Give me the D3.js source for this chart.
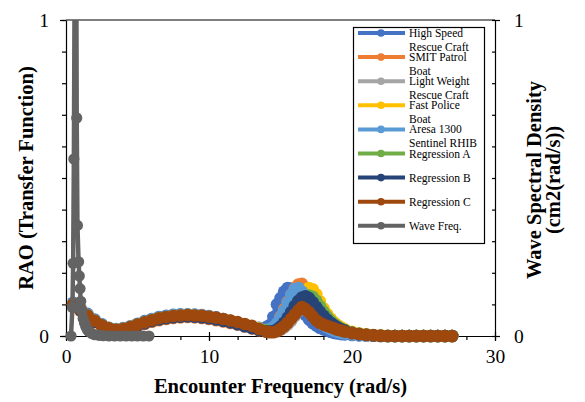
<!DOCTYPE html>
<html><head><meta charset="utf-8">
<script src="https://cdn.jsdelivr.net/npm/d3@7"></script>
<style>
html,body{margin:0;padding:0;background:#fff;}
svg{display:block;font-family:"Liberation Serif","Times New Roman",serif;}
</style></head>
<body><svg id="c" width="585" height="402"></svg>
<script>
// ---------- DATA ----------
const xEnc = [0.5,1,1.5,2,2.5,3,3.5,4,4.5,5,5.5,6,6.5,7,7.5,8,8.5,9,9.5,10,10.5,11,11.5,12,12.5,13,13.5,
  14,14.25,14.5,14.75,15,15.25,15.5,15.75,16,16.25,16.5,16.75,17,17.25,17.5,17.75,18,18.25,18.5,18.75,19,19.25,19.5,
  20,20.5,21,21.5,22,22.5,23,23.5,24,24.5,25,25.5,26,26.5,27];

const highSpeed = [0.105,0.09,0.07,0.052,0.037,0.026,0.022,0.025,0.031,0.039,0.047,0.054,0.06,0.064,0.067,0.069,0.069,0.068,0.066,0.063,0.059,0.054,0.048,0.042,0.036,0.03,0.026,
  0.028,0.035,0.06,0.1,0.12,0.14,0.152,0.15,0.135,0.11,0.085,0.066,0.052,0.041,0.033,0.026,0.021,0.017,0.013,0.01,0.008,0.006,0.005,
  0.003,0.002,0.001,0.001,0,0,0,0,0,0,0,0,0,0,0];
const smitPatrol = [0.095,0.08,0.06,0.044,0.031,0.021,0.017,0.019,0.024,0.031,0.038,0.045,0.05,0.054,0.057,0.059,0.06,0.059,0.057,0.054,0.05,0.046,0.041,0.036,0.03,0.024,0.018,
  0.014,0.016,0.022,0.035,0.06,0.085,0.108,0.13,0.15,0.163,0.165,0.15,0.125,0.1,0.078,0.06,0.046,0.035,0.027,0.021,0.016,0.012,0.01,
  0.006,0.004,0.002,0.001,0,0,0,0,0,0,0,0,0,0,0];
const lightWeight = [0.1,0.084,0.064,0.047,0.033,0.023,0.019,0.021,0.027,0.035,0.042,0.049,0.055,0.059,0.062,0.064,0.065,0.064,0.062,0.059,0.056,0.052,0.047,0.042,0.036,0.03,0.024,
  0.018,0.015,0.014,0.016,0.02,0.027,0.036,0.048,0.063,0.08,0.097,0.112,0.122,0.125,0.118,0.102,0.085,0.068,0.054,0.042,0.033,0.026,0.02,
  0.012,0.008,0.005,0.003,0.002,0.001,0,0,0,0,0,0,0,0,0];
const fastPolice = [0.1,0.086,0.066,0.049,0.035,0.025,0.021,0.023,0.029,0.037,0.044,0.051,0.057,0.061,0.064,0.066,0.067,0.066,0.064,0.061,0.057,0.053,0.048,0.042,0.036,0.03,0.024,
  0.018,0.016,0.017,0.021,0.028,0.038,0.052,0.07,0.09,0.11,0.13,0.145,0.152,0.148,0.132,0.11,0.088,0.07,0.055,0.043,0.034,0.027,0.021,
  0.013,0.008,0.005,0.003,0.002,0.001,0,0,0,0,0,0,0,0,0];
const aresa1300 = [0.102,0.087,0.067,0.05,0.036,0.025,0.021,0.023,0.029,0.037,0.045,0.052,0.058,0.062,0.065,0.067,0.067,0.066,0.064,0.061,0.057,0.052,0.047,0.041,0.035,0.029,0.023,
  0.02,0.022,0.028,0.04,0.058,0.08,0.105,0.13,0.148,0.152,0.14,0.118,0.095,0.075,0.058,0.045,0.035,0.028,0.022,0.017,0.013,0.01,0.008,
  0.005,0.003,0.002,0.001,0,0,0,0,0,0,0,0,0,0,0];
const regressionA = [0.1,0.085,0.065,0.048,0.034,0.024,0.02,0.022,0.028,0.036,0.043,0.05,0.056,0.06,0.063,0.065,0.066,0.065,0.063,0.06,0.056,0.052,0.047,0.041,0.035,0.029,0.023,
  0.018,0.016,0.016,0.019,0.025,0.034,0.046,0.061,0.078,0.096,0.112,0.124,0.128,0.124,0.112,0.095,0.078,0.062,0.049,0.038,0.03,0.023,0.018,
  0.011,0.007,0.004,0.002,0.001,0,0,0,0,0,0,0,0,0,0];
const regressionB = [0.098,0.082,0.062,0.045,0.032,0.022,0.018,0.02,0.026,0.033,0.04,0.047,0.052,0.056,0.059,0.061,0.062,0.061,0.059,0.056,0.052,0.048,0.043,0.037,0.031,0.025,0.019,
  0.015,0.014,0.016,0.021,0.03,0.042,0.058,0.076,0.095,0.111,0.122,0.126,0.12,0.107,0.092,0.077,0.064,0.052,0.042,0.034,0.027,0.021,0.017,
  0.01,0.006,0.004,0.002,0.001,0,0,0,0,0,0,0,0,0,0];
const regressionC = [0.1,0.085,0.065,0.048,0.034,0.024,0.02,0.022,0.028,0.036,0.043,0.05,0.056,0.06,0.063,0.065,0.066,0.065,0.064,0.061,0.058,0.054,0.049,0.044,0.038,0.032,0.022,
  0.014,0.012,0.012,0.015,0.022,0.031,0.042,0.055,0.068,0.081,0.092,0.085,0.075,0.062,0.05,0.042,0.036,0.032,0.028,0.024,0.02,0.017,0.014,
  0.009,0.006,0.004,0.002,0.001,0,0,0,0,0,0,0,0,0,0];

const waveX = [0.35,0.45,0.5,0.55,0.62,0.68,0.75,0.8,0.88,0.93,0.98,1.03,1.1,1.2,1.3,1.4,1.5,1.6,1.8,2.0,2.3,2.6,3.0,3.4,3.8,4.2,4.6,5.0,5.4,5.8];
const waveY = [0,0.09,0.23,0.56,1.3,1.8,0.69,0.35,0.235,0.19,0.15,0.11,0.08,0.055,0.04,0.028,0.02,0.014,0.008,0.004,0.002,0.001,0,0,0,0,0,0,0,0];

const seriesNames = ["High Speed Rescue Craft","SMIT Patrol Boat","Light Weight Rescue Craft","Fast Police Boat","Aresa 1300 Sentinel RHIB","Regression A","Regression B","Regression C","Wave Freq."];
const legendLines = [["High Speed","Rescue Craft"],["SMIT Patrol","Boat"],["Light Weight","Rescue Craft"],["Fast Police","Boat"],["Aresa 1300","Sentinel RHIB"],["Regression A"],["Regression B"],["Regression C"],["Wave Freq."]];
const seriesColors = ["#4472C4","#ED7D31","#A5A5A5","#FFC000","#5B9BD5","#70AD47","#264478","#9E480E","#636363"];
const raoValues = [highSpeed, smitPatrol, lightWeight, fastPolice, aresa1300, regressionA, regressionB, regressionC];

const xTicks = [0,10,20,30];
const yTicks = [0,1];

// ---------- LAYOUT ----------
const svg = d3.select("#c");
const L = 66, R = 495, T = 20, B = 336;
const x = d3.scaleLinear().domain([0,30]).range([L,R]);
const y = d3.scaleLinear().domain([0,1]).range([B,T]);
const y2 = d3.scaleLinear().domain([0,1]).range([B,T]);
const FS = 19.5;

svg.append("defs").append("clipPath").attr("id","clip")
  .append("rect").attr("x",L-10).attr("y",T).attr("width",R-L+20).attr("height",B-T+12);

svg.append("line").attr("x1",L).attr("x2",R).attr("y1",T).attr("y2",T).attr("stroke","#000").attr("stroke-width",1.2);

// axes
const axStyle = sel => { sel.selectAll("path").attr("stroke","#000").attr("stroke-width",1.2); sel.selectAll("line").attr("stroke","#000").attr("stroke-width",1.2); sel.selectAll("text").attr("font-family","Liberation Serif").attr("font-size",FS).attr("fill","#000"); };

const xb = svg.append("g").attr("transform",`translate(0,${B})`)
  .call(d3.axisBottom(x).tickValues(d3.range(0,31,2)).tickSize(4).tickFormat("").tickSizeOuter(0));
axStyle(xb);
const xm = svg.append("g").attr("transform",`translate(0,${B})`)
  .call(d3.axisBottom(x).tickValues(xTicks).tickSize(5).tickPadding(8).tickFormat(d3.format("d")).tickSizeOuter(0));
axStyle(xm); xm.select(".domain").remove();
xm.selectAll(".tick line").attr("y1",-4);

const yl = svg.append("g").attr("transform",`translate(${L},0)`)
  .call(d3.axisLeft(y).tickValues(d3.range(0,1.01,0.1)).tickSize(4).tickFormat("").tickSizeOuter(0));
axStyle(yl);
const ylm = svg.append("g").attr("transform",`translate(${L},0)`)
  .call(d3.axisLeft(y).tickValues(yTicks).tickSize(6).tickPadding(11).tickFormat(d3.format("d")));
axStyle(ylm); ylm.select(".domain").remove();

const yr = svg.append("g").attr("transform",`translate(${R},0)`)
  .call(d3.axisLeft(y2).tickValues(d3.range(0,1.01,0.1)).tickSize(3).tickFormat("").tickSizeOuter(0));
axStyle(yr);
const yrm = svg.append("g").attr("transform",`translate(${R},0)`)
  .call(d3.axisRight(y2).tickValues(yTicks).tickSize(5).tickPadding(14).tickFormat(d3.format("d")));
axStyle(yrm); yrm.select(".domain").remove();

// series
const g = svg.append("g").attr("clip-path","url(#clip)");
const line = d3.line().x(d=>x(d[0])).y(d=>y(d[1]));
raoValues.forEach((vals,i)=>{
  const pts = xEnc.map((xv,j)=>[xv, vals[j]]).filter(d=>d[1]!==undefined);
  const sg = g.append("g");
  sg.append("path").attr("d",line(pts)).attr("fill","none").attr("stroke",seriesColors[i]).attr("stroke-width",5.5).attr("stroke-linejoin","round");
  sg.selectAll("circle").data(pts).join("circle").attr("cx",d=>x(d[0])).attr("cy",d=>y(d[1])).attr("r",6.3).attr("fill",seriesColors[i]);
});
{
  const pts = waveX.map((xv,j)=>[xv, waveY[j]]);
  const line2 = d3.line().x(d=>x(d[0])).y(d=>y2(d[1]));
  const sg = g.append("g");
  sg.append("path").attr("d",line2(pts)).attr("fill","none").attr("stroke",seriesColors[8]).attr("stroke-width",4.5).attr("stroke-linejoin","round");
  sg.selectAll("circle").data(pts).join("circle").attr("cx",d=>x(d[0])).attr("cy",d=>y2(d[1])).attr("r",5.6).attr("fill",seriesColors[8]);
}

// titles
const TFS = 20.5;
svg.append("text").attr("x",(L+R)/2).attr("y",393).attr("text-anchor","middle")
  .attr("font-weight","bold").attr("font-size",TFS).text("Encounter Frequency (rad/s)");
svg.append("text").attr("transform",`translate(33,${(T+B)/2}) rotate(-90)`).attr("text-anchor","middle")
  .attr("font-weight","bold").attr("font-size",TFS).text("RAO (Transfer Function)");
svg.append("text").attr("transform",`translate(541,${(T+B)/2+2}) rotate(-90)`).attr("text-anchor","middle")
  .attr("font-weight","bold").attr("font-size",TFS).text("Wave Spectral Density");
svg.append("text").attr("transform",`translate(560,${(T+B)/2+2}) rotate(-90)`).attr("text-anchor","middle")
  .attr("font-weight","bold").attr("font-size",TFS).text("(cm2(rad/s))");

// legend
const lg = svg.append("g");
lg.append("rect").attr("x",353.5).attr("y",27.5).attr("width",131).attr("height",216).attr("fill","#fff").attr("stroke","#000").attr("stroke-width",1.2);
seriesNames.forEach((nm,i)=>{
  const yy = 33 + i*24.1;
  lg.append("line").attr("x1",358).attr("x2",405).attr("y1",yy).attr("y2",yy).attr("stroke",seriesColors[i]).attr("stroke-width",4);
  lg.append("circle").attr("cx",381).attr("cy",yy).attr("r",3.8).attr("fill",seriesColors[i]);
  const t = lg.append("text").attr("x",409).attr("y",yy+4).attr("font-size",11.5).attr("fill","#000");
  legendLines[i].forEach((ln,k)=>{
    t.append("tspan").attr("x",409).attr("dy",k===0?0:14).text(ln);
  });
});
</script>
</body></html>
